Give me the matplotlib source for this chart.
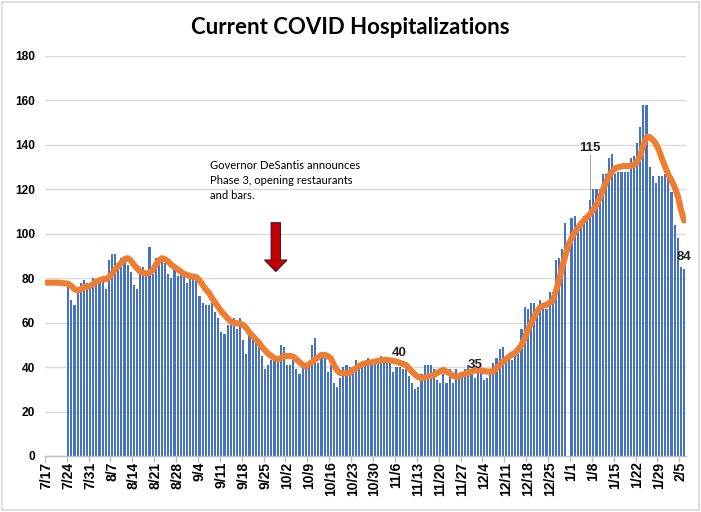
import matplotlib
matplotlib.use('Agg')
import matplotlib.pyplot as plt
from matplotlib.patches import FancyArrow, Rectangle
import numpy as np

# Daily index 0 = 7/17
tick_labels = ['7/17', '7/24', '7/31', '8/7', '8/14', '8/21', '8/28', '9/4', '9/11', '9/18',
               '9/25', '10/2', '10/9', '10/16', '10/23', '10/30', '11/6', '11/13', '11/20',
               '11/27', '12/4', '12/11', '12/18', '12/25', '1/1', '1/8', '1/15', '1/22',
               '1/29', '2/5']

# Current hospitalizations (bars), None = no report
hospitalized = [
    None, None, None, None, None, None, None,
    76, 70, 68, 74, 78, 79, 78, 77, 80, 78, 79, 81, 75, 88,
    91, 91, 87, 89, 89, 86, 83, 77, 75, 85, 85, 82, 94, 82,
    89, 89, 88, 87, 82, 80, 85, 81, 83, 82, 78, 81, 80, 80,
    72, 69, 68, 68, 69, 65, 62, 56, 55, 59, 59, 62, 57, 62,
    52, 46, 55, 54, 52, 51, 45, 39, 41, 43, 45, 44, 50, 49,
    41, 41, 43, 39, 37, 41, 40, 41, 50, 53, 42, 44, 44, 38,
    41, 33, 31, 35, 40, 41, 40, 38, 43, 41, 42, 42, 44, 43,
    42, 42, 45, 43, 43, 43, 38, 40, 40, 39, 39, 36, 33, 30,
    31, 37, 41, 41, 41, 39, 34, 33, 37, 33, 39, 33, 39, 37,
    37, 39, 41, 39, 35, 38, 38, 34, 35, 38, 42, 44, 48, 49,
    43, 44, 43, 48, 46, 57, 67, 66, 69, 69, 64, 70, 66, 66,
    74, 74, 88, 89, 93, 105, None, 107, 108, 101, 103, 108, 108, 115,
    120, 120, 120, 127, 127, 134, 136, 127, 128, 128, 128, 128, 134, 135,
    141, 148, 158, 158, 130, 126, 123, 126, 126, 127, 127, 119, 104, 98,
    85, 84,
]

# 7-day average (orange line)
seven_day_avg = [
    78, 78, 78, 78, 78, 77.8, 77.7, 77.5, 76.5, 75, 74.5, 75, 76, 76,
    76.5, 77.5, 78.5, 79, 79.5, 79.5, 80.5, 82, 84, 85.5, 87, 88.5, 89, 88,
    86, 84.5, 83, 82.5, 82, 82.5, 83.5, 86, 88, 89, 88.5, 87.5, 86, 85,
    84, 83, 82, 81.5, 81, 80.7, 80.5, 79, 77, 75, 73.5, 71, 69, 67,
    65, 63.5, 62, 60.5, 60, 59.7, 59.5, 59, 57.5, 55.5, 54, 52.5, 51, 49,
    47.5, 46, 45, 44, 43.5, 44, 45, 45, 45, 44.7, 43.5, 42.2, 41, 40.3,
    41.2, 42.4, 43.5, 44.5, 45.5, 45.5, 45, 44, 41, 38.5, 37.3, 37.2, 37.2, 37.5,
    38.5, 39.5, 40.5, 41.2, 41.7, 42, 42.2, 42.4, 42.8, 43, 43.2, 43.2, 43, 42.8,
    42.5, 42, 41.5, 41, 39.5, 38, 36.5, 35.5, 35, 35.3, 35.7, 36, 36.5, 37.3,
    38.2, 38.7, 38, 37.2, 36.2, 35.7, 36, 36.5, 37, 37.5, 38, 38.5, 38.7, 38.5,
    38.2, 38, 38, 38, 39.5, 41, 42.3, 43.5, 44.7, 45.7, 46.5, 48, 50, 53,
    56.5, 59.5, 62.5, 65, 67, 67.7, 68, 69, 70, 74, 79, 85, 90, 95,
    98, 100.5, 102.5, 104.5, 106, 107.5, 109, 111, 113, 116, 119.5, 123, 126, 128,
    129.5, 130, 130.3, 130.5, 130.5, 130.5, 131, 132.5, 135, 140, 143.5, 143.5, 142.3, 140.5,
    137.5, 133.5, 130, 126.5, 124, 121, 117, 111, 106,
]

days = np.arange(len(hospitalized))
bar_vals = np.array([np.nan if v is None else v for v in hospitalized], dtype=float)
line_days = np.arange(len(seven_day_avg))

fig = plt.figure(figsize=(7.01, 5.12), dpi=100)
fig.patch.set_facecolor('white')
fig.patches.append(Rectangle((0.003, 0.004), 0.994, 0.992, transform=fig.transFigure,
                             fill=False, edgecolor='#d9d9d9', linewidth=1.2))

ax = fig.add_axes([44.8 / 701, 56 / 512, 640.8 / 701, 400 / 512])
ax.bar(days, bar_vals, width=0.68, color='#4472C4', edgecolor='none', zorder=2)
ax.plot(line_days, seven_day_avg, color='#ED7D31', linewidth=4.4,
        solid_capstyle='round', solid_joinstyle='round', zorder=3)

ax.set_xlim(-0.5, 204.5)
ax.set_ylim(0, 180)
ax.set_yticks(np.arange(0, 181, 20))
ax.yaxis.grid(True, color='#d9d9d9', linewidth=1.0, zorder=0)
ax.set_axisbelow(True)
for s in ['top', 'right', 'left']:
    ax.spines[s].set_visible(False)
ax.spines['bottom'].set_color('#bfbfbf')
ax.spines['bottom'].set_linewidth(1.0)

major = np.arange(len(tick_labels)) * 7
ax.set_xticks(major)
ax.set_xticklabels(tick_labels, rotation=90, fontsize=10, fontweight='bold',
                   family='Liberation Sans', color='#000000')
ax.set_xticks(major - 0.5, minor=True)
ax.tick_params(axis='x', which='major', length=0, pad=4)
ax.tick_params(axis='x', which='minor', length=4, color='#bfbfbf', width=1)
ax.tick_params(axis='y', length=0, pad=7)
for lab in ax.get_yticklabels():
    lab.set_fontsize(8.6)
    lab.set_fontweight('bold')
    lab.set_family('Liberation Sans')

fig.text(0.5, 1 - 27 / 512, 'Current COVID Hospitalizations', ha='center', va='center',
         fontsize=16, fontweight='bold', family='Lato', color='black')

ax.text(52.5, 133, 'Governor DeSantis announces\nPhase 3, opening restaurants\nand bars.',
        ha='left', va='top', fontsize=8.1, family='Lato', color='black', linespacing=1.4)

arrow = FancyArrow(73.4, 105, 0, -22, width=3.0, head_width=7.2, head_length=5.2,
                   length_includes_head=True, facecolor='#C00000', edgecolor='#4a1530',
                   linewidth=0.8, zorder=5)
ax.add_patch(arrow)

# data labels
lab_kw = dict(ha='center', va='center', fontsize=9.5, fontweight='bold', family='Liberation Sans',
              color='#222222', zorder=6)
ax.text(174, 138.5, str(hospitalized[174]), **lab_kw)
ax.plot([174, 174], [135.5, 115.5], color='#a6a6a6', linewidth=0.8, zorder=4)
ax.text(113, 46.3, str(hospitalized[113]), **lab_kw)
ax.text(137, 41, str(hospitalized[137]), **lab_kw)
ax.text(204, 89.6, str(hospitalized[204]), **lab_kw)

fig.savefig('out.png', dpi=100)
